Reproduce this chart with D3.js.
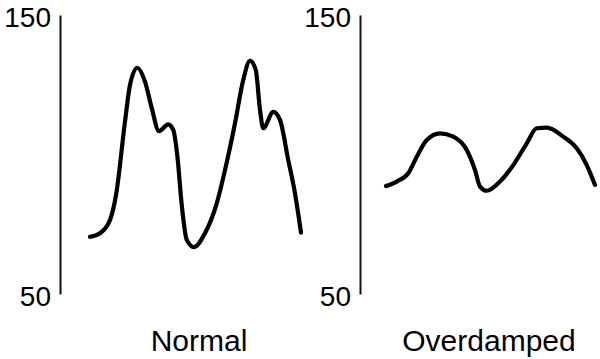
<!DOCTYPE html>
<html>
<head>
<meta charset="utf-8">
<script src="https://cdn.jsdelivr.net/npm/d3@7"></script>
<style>
  body { margin: 0; background: #fff; }
  svg { display: block; }
  .axis text { font-family: "Liberation Sans", Arial, sans-serif; font-size: 28px; fill: #000; }
  .axis path { stroke: #111; stroke-width: 2; }
  .title { font-family: "Liberation Sans", Arial, sans-serif; font-size: 30px; fill: #000; }
</style>
</head>
<body>
<svg></svg>
<script>
const width = 600;
const height = 359;

// pressure waveforms, t as fraction of panel width, p in mmHg
const panels = ['Normal', 'Overdamped'];
const yTicks = [50, 150];

const normalT = [0.12, 0.16, 0.2, 0.225, 0.26, 0.28, 0.309, 0.34, 0.367, 0.396, 0.433, 0.453, 0.469, 0.487,
  0.507, 0.536, 0.58, 0.627, 0.66, 0.7, 0.733, 0.76, 0.783, 0.8, 0.813, 0.853, 0.88, 0.913, 0.94, 0.964];
const normalP = [70.5, 71.8, 76.5, 86, 111.8, 124.9, 131.1, 126.1, 116.6, 108.4, 110.8, 108.8, 99.8, 81.9,
  69.4, 66.8, 71.8, 82.5, 94.4, 111.2, 126.7, 133.6, 130.3, 116, 109.4, 115.3, 112.4, 98, 86.1, 72];

const overT = [0.104, 0.147, 0.193, 0.227, 0.267, 0.32, 0.373, 0.427, 0.46, 0.48, 0.507, 0.56, 0.613, 0.667, 0.707,
  0.747, 0.813, 0.867, 0.907, 0.94];
const overP = [88.7, 90.3, 93.3, 99.2, 105.2, 107.6, 106.4, 101.6, 94.4, 88.5, 87, 90.3, 96.2, 104, 109.4,
  109.6, 106.4, 102.2, 96.2, 89.1];

const svg = d3.select('svg')
  .attr('width', width)
  .attr('height', height);

const yScale = d3.scaleLinear()
  .domain([50, 150])
  .range([294, 15]);

const drawPanel = (axisX, title, titleX, ts, ps) => {
	const xScale = d3.scaleLinear()
	  .domain([0, 1])
	  .range([axisX, axisX + 250]);

	const yAxis = d3.axisLeft(yScale)
	  .tickValues(yTicks)
	  .tickSize(0)
	  .tickSizeOuter(0)
	  .tickPadding(9);

	const g = svg.append('g')
	  .classed('axis', true)
	  .attr('transform', `translate(${axisX}, 0)`)
	  .call(yAxis);
	g.selectAll('text').attr('dy', '0.42em');

	const line = d3.line()
	  .x(d => xScale(d[0]))
	  .y(d => yScale(d[1]))
	  .curve(d3.curveMonotoneX);

	svg.append('path')
	  .datum(d3.zip(ts, ps))
	  .attr('fill', 'none')
	  .attr('stroke', '#000')
	  .attr('stroke-width', 4.2)
	  .attr('stroke-linecap', 'round')
	  .attr('stroke-linejoin', 'round')
	  .attr('d', line);

	svg.append('text')
	  .classed('title', true)
	  .attr('x', xScale(titleX))
	  .attr('y', 351)
	  .attr('text-anchor', 'middle')
	  .text(title);
};

drawPanel(60, panels[0], 0.556, normalT, normalP);
drawPanel(360, panels[1], 0.516, overT, overP);
</script>
</body>
</html>
